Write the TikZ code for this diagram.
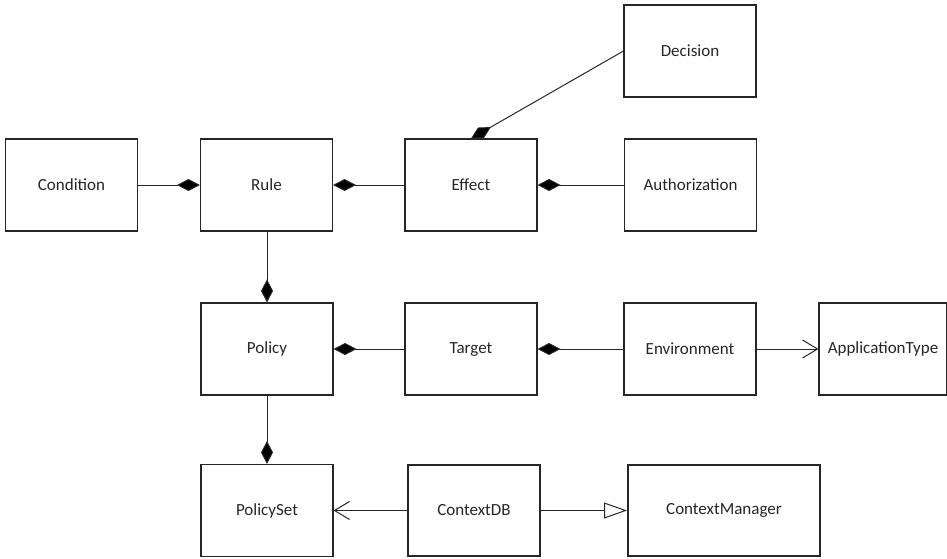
\documentclass[tikz,border=0pt]{standalone}
\usepackage{fontspec}
\setmainfont{Carlito}
\usetikzlibrary{arrows.meta}
\begin{document}
\begin{tikzpicture}[x=1pt,y=-1pt,
  box/.style={draw=black!85,line width=1.1pt,minimum width=132pt,minimum height=92pt,inner sep=0pt,
    font=\fontsize{17}{20}\selectfont,text=black!85},
  thickbox/.style={box,line width=2pt},
  conn/.style={draw=black!85,line width=1pt},
  compo/.style={conn,-{Diamond[length=23pt,width=12pt,fill=black]}},
  assoc/.style={conn,-{Straight Barb[length=15pt,width=18pt,line width=1pt]}},
  gener/.style={conn,-{Triangle[open,length=23pt,width=16pt,fill=white,line width=1pt]}}]
\useasboundingbox (0,0) rectangle (947,558);
\node[box] (condition) at (71.5,185) {Condition};
\node[box] (rule) at (266.5,185) {Rule};
\node[box] (effect) at (471,185) {Effect};
\node[box] (authorization) at (690.5,185) {Authorization};
\node[box] (decision) at (690,51) {Decision};
\node[box] (policy) at (267,349) {Policy};
\node[box] (target) at (471,349) {Target};
\node[box] (environment) at (690,349) {Environment};
\node[box,minimum width=128pt] (apptype) at (883,349) {ApplicationType};
\node[box] (policyset) at (267,510.5) {PolicySet};
\node[thickbox,minimum height=91pt] (contextdb) at (474,510.5) {ContextDB};
\node[thickbox,minimum width=192pt,minimum height=91pt] (contextmgr) at (724,510.5) {ContextManager};
\draw[compo] (condition) -- (rule);
\draw[compo] (effect) -- (rule);
\draw[compo] (authorization) -- (effect);
\draw[compo] (decision.west) -- (effect.north);
\draw[compo] (rule.south -| policy.north) -- (policy.north);
\draw[compo] (policy) -- (policyset);
\draw[compo] (target) -- (policy);
\draw[compo] (environment) -- (target);
\draw[assoc] (environment) -- (apptype);
\draw[assoc] (contextdb) -- (policyset);
\draw[gener] (contextdb) -- (contextmgr);
\end{tikzpicture}
\end{document}
